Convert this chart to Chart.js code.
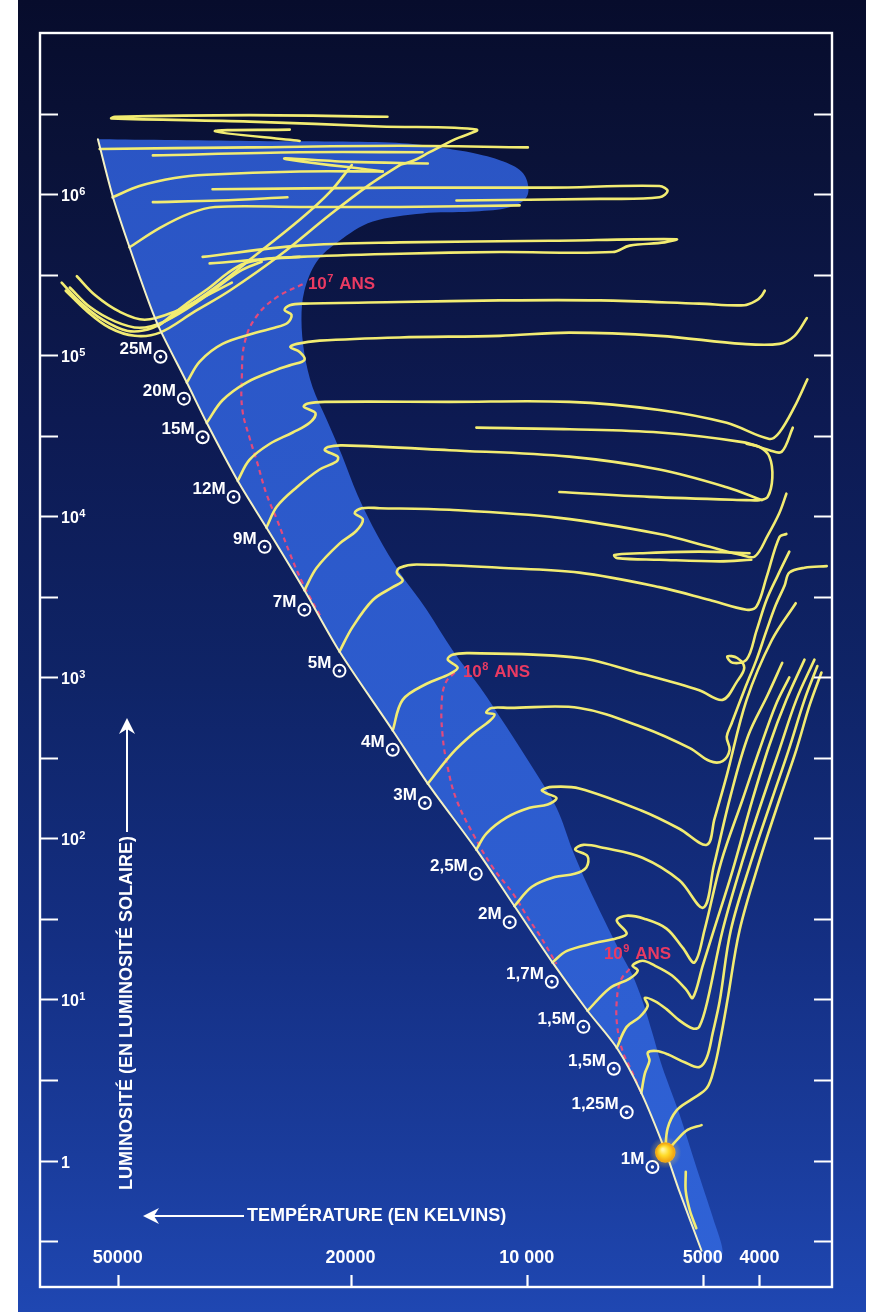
<!DOCTYPE html>
<html lang="fr">
<head>
<meta charset="utf-8">
<title>Trajets évolutifs dans le diagramme HR</title>
<script src="https://cdn.jsdelivr.net/npm/chart.js@4.4.1/dist/chart.umd.min.js"></script>
<style>
  html, body { margin: 0; padding: 0; background: #ffffff; overflow: hidden; }
  canvas { display: block; }
</style>
</head>
<body>
<canvas id="hr" width="874" height="1312"></canvas>
<script>
// ---------- Axes : log10 T (kelvins) horizontally, log10 L (luminosité solaire) vertically ----------
const tempTickValues = [50000, 20000, 10000, 5000, 4000];
const tempTickLabels = ['50000', '20000', '10 000', '5000', '4000'];
const lumTickValues = [0, 1, 2, 3, 4, 5, 6];
const lumTickLabels = ['1', '10¹', '10²', '10³', '10⁴', '10⁵', '10⁶'];
const lumMinorStep = 0.5;
const logTRange = [3.478, 4.832];
const logLRange = [-0.785, 7.0];

// ---------- Séquence principale d'âge zéro [log T, log L] ----------
const zams = [[4.733,6.34],[4.708,5.99],[4.679,5.67],[4.645,5.32],[4.627,5.16],[4.581,4.83],[4.547,4.58],[4.494,4.22],[4.445,3.93],[4.380,3.54],[4.320,3.16],[4.229,2.67],[4.169,2.34],[4.086,1.93],[4.021,1.58],[3.956,1.23],[3.896,0.93],[3.846,0.70],[3.804,0.42],[3.763,0.06],[3.739,-0.19],[3.701,-0.56]];

// Bande de combustion de l'hydrogène : bord supérieur puis bord droit (le bord gauche suit la ZAMS)
const bandEdge = [[4.733,6.34],[4.474,6.33],[4.234,6.32],[4.115,6.27],[4.046,6.21],[4.009,6.14],[3.997,6.04],[4.005,5.96],[4.038,5.91],[4.098,5.89],[4.178,5.88],[4.263,5.83],[4.320,5.71],[4.359,5.58],[4.380,5.40],[4.385,5.22],[4.380,5.01],[4.366,4.80],[4.342,4.60],[4.316,4.38],[4.289,4.13],[4.255,3.88],[4.217,3.65],[4.171,3.42],[4.127,3.17],[4.080,2.94],[4.034,2.69],[3.990,2.44],[3.949,2.19],[3.922,1.93],[3.896,1.71],[3.867,1.49],[3.841,1.30],[3.819,1.15],[3.802,0.99],[3.785,0.79],[3.768,0.58],[3.739,0.29],[3.710,-0.04],[3.682,-0.35],[3.665,-0.56],[3.677,-0.64]];

// ---------- Isochrones ----------
const iso7 = [[4.383,5.44],[4.427,5.36],[4.462,5.24],[4.482,5.08],[4.487,4.86],[4.486,4.66],[4.474,4.49],[4.462,4.35],[4.445,4.14],[4.427,3.98],[4.405,3.77],[4.385,3.60],[4.368,3.48],[4.351,3.37]];
const iso8 = [[4.123,3.03],[4.138,2.97],[4.145,2.86],[4.144,2.65],[4.135,2.44],[4.120,2.24],[4.092,2.03],[4.058,1.82],[4.024,1.66],[3.995,1.49],[3.978,1.40],[3.949,1.22]];
const iso9 = [[3.824,1.19],[3.839,1.12],[3.846,0.99],[3.845,0.83],[3.836,0.68],[3.821,0.56],[3.804,0.42]];
const isoLabels = ['10⁷ ANS', '10⁸ ANS', '10⁹ ANS'];
const isoLabelLogT = [4.374, 4.109, 3.868];
const isoLabelLogL = [5.45, 3.04, 1.29];

// ---------- Trajets évolutifs ----------
const t25M = [[4.630,5.18],[4.585,5.31],[4.542,5.42],[4.511,5.51],[4.482,5.57],[4.439,5.60],[4.388,5.61]];
const t20M = [[4.581,4.83],[4.559,4.96],[4.520,5.07],[4.462,5.14],[4.431,5.17],[4.409,5.20],[4.402,5.25],[4.414,5.28],[4.405,5.31],[4.380,5.32],[4.217,5.33],[4.046,5.34],[3.875,5.34],[3.705,5.32],[3.628,5.31],[3.607,5.34],[3.598,5.37],[3.593,5.40]];
const t15M = [[4.547,4.58],[4.520,4.72],[4.479,4.83],[4.427,4.91],[4.402,4.94],[4.380,4.97],[4.388,5.02],[4.404,5.05],[4.393,5.07],[4.354,5.09],[4.217,5.11],[4.046,5.12],[3.927,5.14],[3.773,5.12],[3.631,5.07],[3.568,5.07],[3.542,5.12],[3.521,5.23]];
const t12M = [[4.494,4.22],[4.474,4.35],[4.439,4.45],[4.400,4.52],[4.371,4.58],[4.361,4.64],[4.381,4.68],[4.374,4.70],[4.345,4.71],[4.132,4.71],[3.927,4.71],[3.773,4.66],[3.658,4.58],[3.585,4.48],[3.568,4.52],[3.542,4.68],[3.520,4.85]];
const loopUpper = [[4.086,4.55],[3.927,4.54],[3.773,4.52],[3.631,4.46],[3.585,4.41],[3.564,4.40],[3.545,4.55]];
const loopLower = [[3.944,4.15],[3.790,4.12],[3.624,4.10],[3.602,4.10],[3.588,4.12],[3.580,4.24],[3.585,4.37],[3.602,4.43],[3.624,4.45]];
const t9M = [[4.445,3.93],[4.427,4.06],[4.393,4.18],[4.354,4.29],[4.325,4.34],[4.323,4.37],[4.345,4.41],[4.340,4.43],[4.315,4.44],[4.132,4.41],[3.927,4.37],[3.773,4.29],[3.658,4.18],[3.598,4.10]];
const t7M = [[4.380,3.54],[4.359,3.68],[4.320,3.83],[4.291,3.91],[4.280,3.98],[4.294,4.02],[4.282,4.05],[4.251,4.05],[4.132,4.04],[3.944,3.99],[3.773,3.89],[3.687,3.81],[3.633,3.76],[3.610,3.75],[3.588,3.88],[3.568,4.02],[3.556,4.14]];
const loop7M = [[3.619,3.77],[3.705,3.78],[3.807,3.77],[3.850,3.76],[3.845,3.74],[3.773,3.73],[3.670,3.72],[3.616,3.73]];
const t5M = [[4.320,3.16],[4.298,3.31],[4.263,3.48],[4.229,3.56],[4.212,3.60],[4.222,3.65],[4.217,3.68],[4.188,3.70],[4.046,3.68],[3.910,3.65],[3.773,3.56],[3.687,3.48],[3.624,3.42],[3.607,3.44],[3.590,3.62],[3.568,3.87],[3.556,3.89]];
const t4M = [[4.229,2.67],[4.212,2.86],[4.171,2.96],[4.132,3.02],[4.118,3.06],[4.135,3.11],[4.127,3.14],[4.098,3.15],[3.910,3.12],[3.802,3.02],[3.705,2.92],[3.665,2.86],[3.641,2.97],[3.628,3.06],[3.640,3.12],[3.657,3.13],[3.648,3.09],[3.624,3.11],[3.607,3.29],[3.590,3.48],[3.571,3.63],[3.551,3.78]];
const t3M = [[4.169,2.34],[4.127,2.53],[4.092,2.65],[4.063,2.73],[4.055,2.77],[4.069,2.78],[4.060,2.81],[4.029,2.81],[3.910,2.81],[3.802,2.69],[3.721,2.56],[3.687,2.48],[3.665,2.48],[3.653,2.55],[3.658,2.63],[3.650,2.71],[3.628,2.92],[3.607,3.11],[3.590,3.29],[3.574,3.45],[3.559,3.57],[3.551,3.65],[3.525,3.68],[3.487,3.69]];
const t2_5M = [[4.086,1.93],[4.069,2.03],[4.034,2.13],[3.995,2.19],[3.964,2.21],[3.949,2.25],[3.966,2.28],[3.974,2.30],[3.956,2.32],[3.910,2.31],[3.802,2.17],[3.739,2.06],[3.692,1.96],[3.679,2.12],[3.658,2.39],[3.624,2.86],[3.581,3.23],[3.540,3.46]];
const t2M = [[4.021,1.58],[3.991,1.70],[3.952,1.76],[3.918,1.78],[3.898,1.82],[3.896,1.89],[3.917,1.93],[3.903,1.96],[3.867,1.94],[3.802,1.88],[3.739,1.74],[3.698,1.57],[3.680,1.83],[3.651,2.27],[3.621,2.64],[3.588,2.89],[3.563,3.09]];
const t1_7M = [[3.956,1.23],[3.932,1.30],[3.884,1.35],[3.846,1.38],[3.829,1.41],[3.846,1.49],[3.829,1.52],[3.798,1.50],[3.761,1.44],[3.733,1.32],[3.713,1.23],[3.696,1.43],[3.667,1.86],[3.631,2.24],[3.602,2.55],[3.574,2.83],[3.551,3.00]];
const t1_5Ma = [[3.896,0.93],[3.858,1.07],[3.824,1.13],[3.810,1.18],[3.819,1.21],[3.802,1.24],[3.781,1.21],[3.752,1.15],[3.727,1.06],[3.716,1.01],[3.699,1.21],[3.680,1.43],[3.648,1.80],[3.614,2.24],[3.585,2.58],[3.556,2.86],[3.525,3.11]];
const t1_5Mb = [[3.846,0.70],[3.829,0.83],[3.807,0.89],[3.793,0.96],[3.798,1.01],[3.781,0.99],[3.761,0.94],[3.739,0.87],[3.716,0.82],[3.705,0.83],[3.691,0.99],[3.665,1.43],[3.631,1.86],[3.597,2.24],[3.568,2.55],[3.539,2.86],[3.508,3.11]];
const t1_25M = [[3.804,0.42],[3.798,0.54],[3.790,0.62],[3.793,0.67],[3.778,0.68],[3.759,0.66],[3.730,0.61],[3.705,0.58],[3.692,0.64],[3.682,0.79],[3.670,0.99],[3.651,1.43],[3.616,1.86],[3.581,2.24],[3.552,2.55],[3.525,2.86],[3.503,3.07]];
const t1M = [[3.763,0.06],[3.759,0.20],[3.744,0.31],[3.718,0.38],[3.692,0.45],[3.679,0.58],[3.669,0.75],[3.657,0.99],[3.636,1.43],[3.602,1.86],[3.568,2.24],[3.539,2.55],[3.516,2.83],[3.496,3.03]];
const sunHook = [[3.759,0.06],[3.745,0.12],[3.725,0.19],[3.701,0.22]];
const lowTail = [[3.728,-0.07],[3.728,-0.19],[3.721,-0.31],[3.710,-0.42]];

// Étoiles très massives (haut du diagramme)
const topM1 = [[4.238,6.48],[4.474,6.49],[4.704,6.48],[4.710,6.47],[4.474,6.45],[4.251,6.42],[4.086,6.40],[4.123,6.34],[4.166,6.26],[4.192,6.21],[4.217,6.18]];
const topZ1 = [[4.405,6.40],[4.533,6.39],[4.388,6.33]];
const topZ3 = [[4.169,6.19],[4.303,6.20],[4.414,6.22],[4.246,6.14]];
const topH1 = [[4.730,6.28],[4.474,6.29],[4.217,6.30],[3.998,6.29]];
const topH2 = [[4.639,6.24],[4.388,6.26],[4.178,6.26]];
const topH4 = [[4.708,5.98],[4.662,6.05],[4.602,6.10],[4.547,6.12],[4.388,6.14],[4.246,6.14]];
const topH5 = [[4.639,5.95],[4.525,5.96],[4.409,5.98]];
const topLoopA = [[4.537,6.03],[4.217,6.04],[3.961,6.04],[3.773,6.05],[3.759,6.02],[3.773,5.98],[3.875,5.97],[4.120,5.96]];
const topH6 = [[4.679,5.67],[4.627,5.79],[4.576,5.88],[4.533,5.92],[4.388,5.92],[4.217,5.92],[4.012,5.93]];
const topLoopB = [[4.554,5.61],[4.388,5.68],[4.217,5.70],[3.961,5.71],[3.744,5.72],[3.764,5.70],[3.824,5.68],[3.853,5.64],[4.046,5.64],[4.217,5.63],[4.388,5.61],[4.542,5.57]];
const fanU1 = [[4.795,5.45],[4.764,5.33],[4.725,5.22],[4.682,5.15],[4.639,5.17],[4.593,5.27],[4.533,5.42],[4.474,5.59],[4.388,5.84],[4.337,6.01],[4.299,6.18]];
const fanU2 = [[4.788,5.40],[4.754,5.28],[4.713,5.17],[4.670,5.12],[4.627,5.14],[4.568,5.27],[4.508,5.40],[4.422,5.62],[4.337,5.87],[4.268,6.06],[4.217,6.18]];
const fanU3 = [[4.769,5.49],[4.737,5.37],[4.696,5.27],[4.653,5.22],[4.602,5.27],[4.547,5.37],[4.504,5.45]];
const fanU4 = [[4.781,5.42],[4.747,5.30],[4.704,5.21],[4.662,5.17],[4.619,5.21],[4.559,5.34],[4.491,5.52],[4.453,5.58]];

// ---------- Masses initiales sur la séquence principale ----------
const massLabels = ['25M', '20M', '15M', '12M', '9M', '7M', '5M', '4M', '3M', '2,5M', '2M', '1,7M', '1,5M', '1,5M', '1,25M', '1M'];
const massLogT = [4.626, 4.586, 4.554, 4.501, 4.448, 4.380, 4.320, 4.229, 4.174, 4.087, 4.029, 3.957, 3.903, 3.851, 3.829, 3.785];
const massLogL = [4.99, 4.73, 4.49, 4.12, 3.81, 3.42, 3.04, 2.55, 2.22, 1.78, 1.48, 1.11, 0.83, 0.57, 0.30, -0.04];

// Le Soleil
const sunLogT = [3.763];
const sunLogL = [0.05];

const yTitle = 'LUMINOSITÉ (EN LUMINOSITÉ SOLAIRE)';
const xTitle = 'TEMPÉRATURE (EN KELVINS)';

// ---------- Styles ----------
const FONT = '"Liberation Sans", Arial, Helvetica, sans-serif';
const TRACK_COLOR = '#f2ec72';
const ZAMS_COLOR = '#f4f1c4';
const ISO_COLOR = '#e24a7c';
const ISO_TEXT = '#ea3a62';

const toPts = arr => arr.map(([x, y]) => ({ x, y }));
const lineSet = (arr, color, width, order, extra) => Object.assign({
  data: toPts(arr), showLine: true, borderColor: color, borderWidth: width,
  pointRadius: 0, pointHoverRadius: 0, fill: false, tension: 0.35, order,
  borderCapStyle: 'round', borderJoinStyle: 'round'
}, extra || {});

const trackArrays = [t25M, t20M, t15M, t12M, loopUpper, loopLower, t9M, t7M, loop7M, t5M, t4M, t3M,
  t2_5M, t2M, t1_7M, t1_5Ma, t1_5Mb, t1_25M, t1M, sunHook, lowTail,
  topM1, topZ1, topZ3, topH1, topH2, topH4, topH5, topLoopA, topH6, topLoopB, fanU1, fanU2, fanU3, fanU4];

const massPoints = massLogT.map((t, i) => ({ x: t, y: massLogL[i] }));

const datasets = [
  ...[iso7, iso8, iso9].map(a => lineSet(a, ISO_COLOR, 2.2, 30, { borderDash: [5, 4], tension: 0.4, borderCapStyle: 'butt' })),
  ...trackArrays.map(a => lineSet(a, TRACK_COLOR, 2.6, 20)),
  lineSet(zams, ZAMS_COLOR, 2, 10, { tension: 0.3 }),
  { data: massPoints, showLine: false, pointRadius: 6, pointBorderWidth: 2, pointBorderColor: '#ffffff',
    pointBackgroundColor: 'rgba(0,0,0,0)', order: 3 },
  { data: massPoints, showLine: false, pointRadius: 1.7, pointBorderWidth: 0,
    pointBackgroundColor: '#ffffff', order: 2 },
  { data: sunLogT.map((t, i) => ({ x: t, y: sunLogL[i] })), showLine: false, pointRadius: 9.5,
    pointBorderWidth: 1.5, pointBorderColor: '#f2a20c', pointBackgroundColor: '#ffd629', order: 1, sun: true }
];

// ---------- Helpers ----------
const SUP = { '⁰': '0', '¹': '1', '²': '2', '³': '3', '⁴': '4', '⁵': '5', '⁶': '6', '⁷': '7', '⁸': '8', '⁹': '9' };
function richRuns(text) {
  const runs = [];
  for (const ch of text) {
    const sup = ch in SUP;
    const c = sup ? SUP[ch] : ch;
    const last = runs[runs.length - 1];
    if (last && last.sup === sup) last.t += c; else runs.push({ t: c, sup });
  }
  return runs;
}
function drawRich(ctx, text, x, y, align, size, supSize, rise) {
  const runs = richRuns(text);
  const fN = `bold ${size}px ${FONT}`, fS = `bold ${supSize}px ${FONT}`;
  let w = 0;
  runs.forEach(r => { ctx.font = r.sup ? fS : fN; r.w = ctx.measureText(r.t).width + (r.sup ? 1.5 : 0); w += r.w; });
  let cx = align === 'right' ? x - w : align === 'center' ? x - w / 2 : x;
  ctx.textAlign = 'left';
  ctx.textBaseline = 'alphabetic';
  runs.forEach(r => {
    ctx.font = r.sup ? fS : fN;
    ctx.fillText(r.t, cx + (r.sup ? 0.5 : 0), r.sup ? y - rise : y);
    cx += r.w;
  });
}
function arrowHead(ctx, tx, ty, dx, dy) {
  const len = 16, half = 8, notch = 5;
  const px = -dy, py = dx;
  ctx.beginPath();
  ctx.moveTo(tx, ty);
  ctx.lineTo(tx - dx * len + px * half, ty - dy * len + py * half);
  ctx.lineTo(tx - dx * (len - notch), ty - dy * (len - notch));
  ctx.lineTo(tx - dx * len - px * half, ty - dy * len - py * half);
  ctx.closePath();
  ctx.fill();
}
// Catmull-Rom curve through the given pixel points (open ends)
function openSpline(ctx, pts, move) {
  const n = pts.length;
  if (move) ctx.moveTo(pts[0].x, pts[0].y); else ctx.lineTo(pts[0].x, pts[0].y);
  for (let i = 0; i < n - 1; i++) {
    const p0 = pts[Math.max(i - 1, 0)], p1 = pts[i], p2 = pts[i + 1], p3 = pts[Math.min(i + 2, n - 1)];
    ctx.bezierCurveTo(p1.x + (p2.x - p0.x) / 6, p1.y + (p2.y - p0.y) / 6,
                      p2.x - (p3.x - p1.x) / 6, p2.y - (p3.y - p1.y) / 6, p2.x, p2.y);
  }
}

// ---------- Plugins ----------
const backdrop = {
  id: 'backdrop',
  beforeDraw(chart) {
    const { ctx, width, height } = chart;
    ctx.save();
    const g = ctx.createLinearGradient(0, 0, 0, height);
    g.addColorStop(0, '#070c2c');
    g.addColorStop(0.12, '#0a1238');
    g.addColorStop(0.32, '#0d1a52');
    g.addColorStop(0.52, '#0f2467');
    g.addColorStop(0.72, '#142f83');
    g.addColorStop(0.88, '#1a3c9c');
    g.addColorStop(1, '#1f47b2');
    ctx.fillStyle = g;
    ctx.fillRect(0, 0, width, height);
    ctx.fillStyle = '#ffffff';
    ctx.fillRect(0, 0, 18, height);
    ctx.fillRect(width - 8, 0, 8, height);
    ctx.restore();
  }
};

const bandFill = {
  id: 'bandFill',
  beforeDatasetsDraw(chart) {
    const { ctx, chartArea: a, scales: { x: xs, y: ys } } = chart;
    const px = ([t, l]) => ({ x: xs.getPixelForValue(t), y: ys.getPixelForValue(l) });
    const edge = bandEdge.map(px);
    const left = zams.slice().reverse().map(px);
    ctx.save();
    ctx.beginPath();
    ctx.rect(a.left, a.top, a.right - a.left, a.bottom - a.top);
    ctx.clip();
    const g = ctx.createLinearGradient(0, a.top, 0, a.bottom);
    g.addColorStop(0, '#2a54c3');
    g.addColorStop(1, '#2f62d6');
    ctx.fillStyle = g;
    ctx.beginPath();
    openSpline(ctx, edge, true);
    openSpline(ctx, left, false);
    ctx.closePath();
    ctx.fill();
    ctx.restore();
  }
};

const annotate = {
  id: 'annotate',
  afterDatasetsDraw(chart) {
    const { ctx, chartArea: a, scales: { x: xs, y: ys } } = chart;
    ctx.save();

    // Soleil : dégradé sur le point tracé
    const sunIdx = chart.data.datasets.findIndex(d => d.sun);
    const sunEl = chart.getDatasetMeta(sunIdx).data[0];
    if (sunEl) {
      const glow = ctx.createRadialGradient(sunEl.x, sunEl.y, 6, sunEl.x, sunEl.y, 16);
      glow.addColorStop(0, 'rgba(255,210,60,0.45)');
      glow.addColorStop(1, 'rgba(255,210,60,0)');
      ctx.fillStyle = glow;
      ctx.beginPath(); ctx.arc(sunEl.x, sunEl.y, 16, 0, Math.PI * 2); ctx.fill();
      const rg = ctx.createRadialGradient(sunEl.x - 2.5, sunEl.y - 3, 1, sunEl.x, sunEl.y, 9.5);
      rg.addColorStop(0, '#fff6a0');
      rg.addColorStop(0.45, '#ffdc2a');
      rg.addColorStop(1, '#f0a010');
      ctx.fillStyle = rg;
      ctx.beginPath(); ctx.arc(sunEl.x, sunEl.y, 9.5, 0, Math.PI * 2); ctx.fill();
    }

    // Étiquettes des masses
    ctx.fillStyle = '#ffffff';
    ctx.font = `bold 17px ${FONT}`;
    ctx.textAlign = 'right';
    ctx.textBaseline = 'alphabetic';
    massLabels.forEach((t, i) => {
      ctx.fillText(t, xs.getPixelForValue(massLogT[i]) - 8, ys.getPixelForValue(massLogL[i]) - 3);
    });

    // Étiquettes des isochrones
    ctx.fillStyle = ISO_TEXT;
    isoLabels.forEach((t, i) => {
      drawRich(ctx, t, xs.getPixelForValue(isoLabelLogT[i]), ys.getPixelForValue(isoLabelLogL[i]) + 6, 'left', 17, 11, 7);
    });

    // Cadre
    ctx.strokeStyle = '#ffffff';
    ctx.lineWidth = 2.4;
    ctx.strokeRect(a.left, a.top, a.right - a.left, a.bottom - a.top);

    // Graduations de luminosité (gauche et droite)
    ctx.lineWidth = 2.2;
    ctx.beginPath();
    for (let v = Math.ceil(ys.min / lumMinorStep) * lumMinorStep; v < ys.max - 1e-6; v += lumMinorStep) {
      const py = Math.round(ys.getPixelForValue(v)) + 0.5;
      ctx.moveTo(a.left, py); ctx.lineTo(a.left + 18, py);
      ctx.moveTo(a.right - 18, py); ctx.lineTo(a.right, py);
    }
    // Graduations de température (bas)
    tempTickValues.forEach(v => {
      const px = Math.round(xs.getPixelForValue(Math.log10(v))) + 0.5;
      ctx.moveTo(px, a.bottom - 12); ctx.lineTo(px, a.bottom);
    });
    ctx.stroke();

    // Libellés de luminosité
    ctx.fillStyle = '#ffffff';
    lumTickValues.forEach((v, i) => {
      drawRich(ctx, lumTickLabels[i], a.left + 21, ys.getPixelForValue(v) + 7, 'left', 16, 11, 6);
    });
    // Libellés de température
    ctx.font = `bold 18px ${FONT}`;
    ctx.textAlign = 'center';
    ctx.textBaseline = 'alphabetic';
    tempTickValues.forEach((v, i) => {
      ctx.fillText(tempTickLabels[i], xs.getPixelForValue(Math.log10(v)), a.bottom - 24);
    });

    // Titre de l'axe des températures, avec flèche vers les températures élevées
    const tx = a.left + 207, ty = a.bottom - 71;
    ctx.textAlign = 'left';
    ctx.textBaseline = 'middle';
    ctx.fillText(xTitle, tx, ty);
    ctx.lineWidth = 2;
    ctx.beginPath(); ctx.moveTo(tx - 3, ty); ctx.lineTo(a.left + 112, ty); ctx.stroke();
    arrowHead(ctx, a.left + 103, ty, -1, 0);

    // Titre de l'axe des luminosités, vertical, avec flèche vers le haut
    const vx = a.left + 87, vy = a.bottom - 97;
    ctx.save();
    ctx.translate(vx, vy);
    ctx.rotate(-Math.PI / 2);
    ctx.textAlign = 'left';
    ctx.textBaseline = 'middle';
    ctx.fillText(yTitle, 0, 0);
    const tw = ctx.measureText(yTitle).width;
    const tipDist = vy - (a.top + 685);
    ctx.beginPath(); ctx.moveTo(tw + 4, 0); ctx.lineTo(tipDist - 9, 0); ctx.stroke();
    arrowHead(ctx, tipDist, 0, 1, 0);
    ctx.restore();

    ctx.restore();
  }
};

new Chart(document.getElementById('hr'), {
  type: 'scatter',
  data: { datasets },
  options: {
    responsive: false,
    animation: false,
    devicePixelRatio: 1,
    layout: { padding: { left: 40, right: 42, top: 33, bottom: 25 } },
    scales: {
      x: { type: 'linear', min: logTRange[0], max: logTRange[1], reverse: true, display: false },
      y: { type: 'linear', min: logLRange[0], max: logLRange[1], display: false }
    },
    plugins: { legend: { display: false }, tooltip: { enabled: false } },
    events: []
  },
  plugins: [backdrop, bandFill, annotate]
});
</script>
</body>
</html>
